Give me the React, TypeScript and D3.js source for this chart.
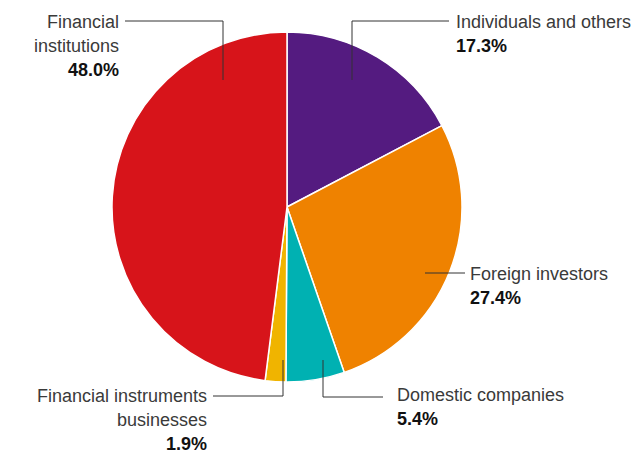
import React from "react";
import * as d3 from "d3";

const categories = [
  "Individuals and others",
  "Foreign investors",
  "Domestic companies",
  "Financial instruments businesses",
  "Financial institutions",
];
const values = [17.3, 27.4, 5.4, 1.9, 48.0];
const colors = ["#541b80", "#ef8200", "#00b1b2", "#f0b400", "#d7141a"];

type Lbl = { lines: string[]; pct: string; x: number; y: number; anchor: "start" | "end"; path: [number, number][] };

const W = 634, H = 453;
const cx = 287, cy = 207, R = 175;

const labels: Lbl[] = [
  { lines: ["Individuals and others"], pct: "17.3%", x: 456, y: 28, anchor: "start", path: [[352, 80], [352, 21], [449, 21]] },
  { lines: ["Foreign investors"], pct: "27.4%", x: 470, y: 280, anchor: "start", path: [[425, 273], [465, 273]] },
  { lines: ["Domestic companies"], pct: "5.4%", x: 397, y: 401, anchor: "start", path: [[323, 360], [323, 397], [383, 397]] },
  { lines: ["Financial instruments", "businesses"], pct: "1.9%", x: 207, y: 402, anchor: "end", path: [[283, 360], [283, 396], [213, 396]] },
  { lines: ["Financial", "institutions"], pct: "48.0%", x: 119, y: 28, anchor: "end", path: [[223, 80], [223, 21], [125, 21]] },
];

export default function App() {
  const pie = d3.pie<number>().sort(null).value((d) => d);
  const arcs = pie(values);
  const arc = d3.arc<d3.PieArcDatum<number>>().innerRadius(0).outerRadius(R);
  const line = d3.line();
  const font = "'Liberation Sans', Arial, sans-serif";
  return (
    <svg width={W} height={H} style={{ position: "absolute", left: 0, top: 0 }}>
      <rect width={W} height={H} fill="#fff" />
      <g transform={`translate(${cx},${cy})`}>
        {arcs.map((a, i) => (
          <path key={categories[i]} d={arc(a) || ""} fill={colors[i]} stroke="#fff" strokeWidth={1.5} strokeLinejoin="round" />
        ))}
      </g>
      {labels.map((l, i) => (
        <g key={i}>
          <path d={line(l.path) || ""} fill="none" stroke="#333" strokeWidth={1} />
          <text x={l.x} y={l.y} textAnchor={l.anchor} fontFamily={font} fontSize={18} fill="#3a3a3a">
            {l.lines.map((t, j) => (
              <tspan key={j} x={l.x} dy={j === 0 ? 0 : 24}>{t}</tspan>
            ))}
            <tspan x={l.x} dy={24} fontWeight="bold" fontSize={18} fill="#111">{l.pct}</tspan>
          </text>
        </g>
      ))}
    </svg>
  );
}
